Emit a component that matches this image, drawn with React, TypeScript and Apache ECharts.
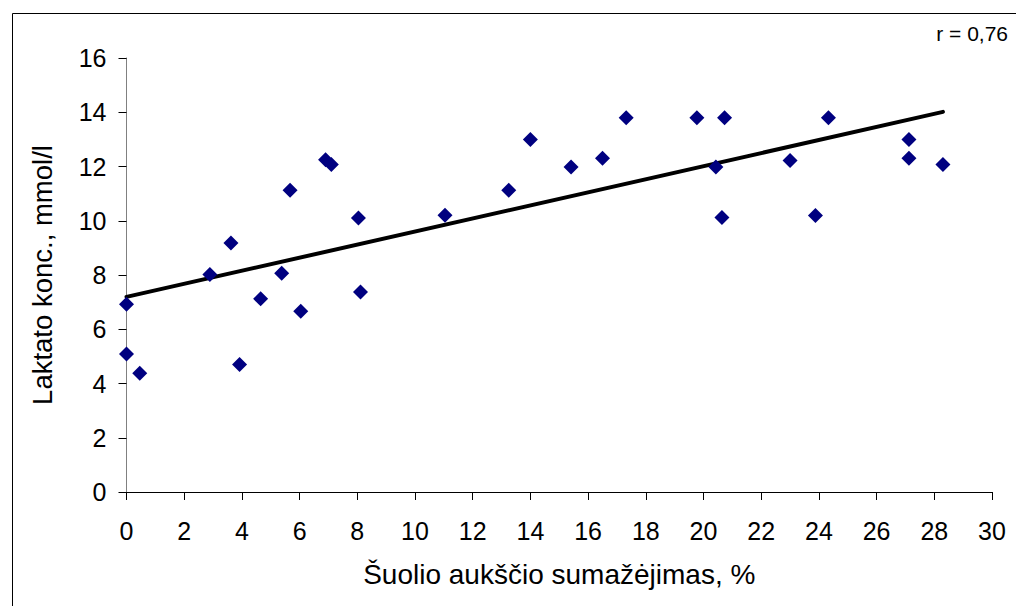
import React, { useEffect, useRef } from "react";
import * as echarts from "echarts";

// Jump height decrease (%) against lactate concentration (mmol/l)
const heightDrop: number[] = [
  0, 0, 0.46, 2.89, 3.62, 3.92, 4.65, 5.38, 5.67, 6.04, 6.9, 7.1, 8.04, 8.11, 11.04,
  13.25, 14.0, 15.41, 16.5, 17.32, 19.77, 20.43, 20.73, 20.64, 23.0, 23.88, 24.33,
  27.12, 27.12, 28.3,
];
const lactate: number[] = [
  6.92, 5.09, 4.38, 8.02, 9.18, 4.7, 7.12, 8.06, 11.12, 6.66, 12.25, 12.07, 10.1, 7.37,
  10.2, 11.12, 13.0, 11.98, 12.3, 13.8, 13.8, 11.98, 13.8, 10.12, 12.22, 10.19, 13.8,
  13.0, 12.3, 12.07,
];
const correlationLabel = "r = 0,76";
const xTitle = "Šuolio aukščio sumažėjimas, %";
const yTitle = "Laktato konc., mmol/l";

// least-squares fit for the trend line
function linearFit(xs: number[], ys: number[]) {
  const n = xs.length;
  const mx = xs.reduce((a, b) => a + b, 0) / n;
  const my = ys.reduce((a, b) => a + b, 0) / n;
  let sxy = 0;
  let sxx = 0;
  for (let i = 0; i < n; i++) {
    sxy += (xs[i] - mx) * (ys[i] - my);
    sxx += (xs[i] - mx) * (xs[i] - mx);
  }
  const slope = sxy / sxx;
  return { slope, intercept: my - slope * mx };
}

export default function App() {
  const ref = useRef<HTMLDivElement>(null);

  useEffect(() => {
    if (!ref.current) return;
    const chart = echarts.init(ref.current, undefined, { renderer: "svg" });
    const fit = linearFit(heightDrop, lactate);
    const xMin = Math.min(...heightDrop);
    const xMax = Math.max(...heightDrop);
    const points = heightDrop.map((x, i) => [x, lactate[i]]);
    const font = "'Liberation Sans', Arial, sans-serif";

    chart.setOption({
      animation: false,
      backgroundColor: "#ffffff",
      grid: { left: 126.5, right: 24, top: 58, bottom: 114, containLabel: false },
      xAxis: {
        type: "value",
        min: 0,
        max: 30,
        interval: 2,
        name: xTitle,
        nameLocation: "middle",
        nameGap: 68,
        nameTextStyle: { fontFamily: font, fontSize: 28, color: "#000" },
        axisLine: { lineStyle: { color: "#000", width: 1 } },
        axisTick: { show: true, length: 8, inside: false, lineStyle: { color: "#000" } },
        axisLabel: { fontFamily: font, fontSize: 25, color: "#000", margin: 26 },
        splitLine: { show: false },
      },
      yAxis: {
        type: "value",
        min: 0,
        max: 16,
        interval: 2,
        name: yTitle,
        nameLocation: "middle",
        nameGap: 70,
        nameRotate: 90,
        nameTextStyle: { fontFamily: font, fontSize: 27.5, color: "#000" },
        axisLine: { show: true, lineStyle: { color: "#808080", width: 1 } },
        axisTick: { show: true, length: 8, inside: false, lineStyle: { color: "#000" } },
        axisLabel: { fontFamily: font, fontSize: 25, color: "#000", margin: 20 },
        splitLine: { show: false },
      },
      graphic: [
        {
          type: "rect",
          left: 10,
          top: 11,
          shape: { width: 1020, height: 610 },
          style: { fill: "none", stroke: "#000", lineWidth: 1 },
          silent: true,
        },
        {
          type: "text",
          right: 8,
          top: 23,
          style: { text: correlationLabel, fontFamily: font, fontSize: 21, fill: "#000" },
        },
      ],
      series: [
        {
          type: "line",
          data: [
            [xMin, fit.intercept + fit.slope * xMin],
            [xMax, fit.intercept + fit.slope * xMax],
          ],
          showSymbol: false,
          symbol: "none",
          lineStyle: { color: "#000", width: 4, cap: "round" },
          z: 2,
          silent: true,
        },
        {
          type: "scatter",
          data: points,
          symbol: "diamond",
          symbolSize: [15, 15],
          itemStyle: { color: "#000080", opacity: 1 },
          z: 3,
        },
      ],
    });

    return () => chart.dispose();
  }, []);

  return (
    <div
      ref={ref}
      style={{ position: "fixed", left: 0, top: 0, width: 1016, height: 606, background: "#fff" }}
    />
  );
}
